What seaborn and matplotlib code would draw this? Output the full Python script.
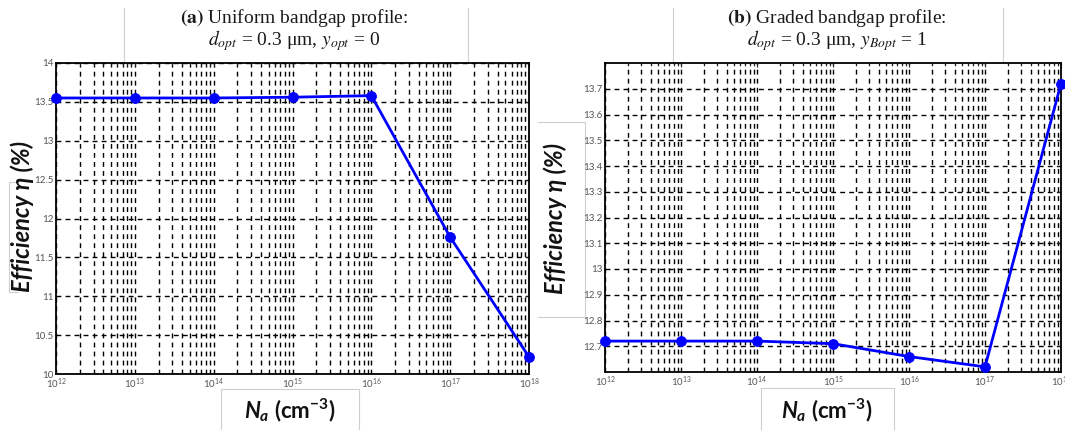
import numpy as np
import pandas as pd
import matplotlib
matplotlib.use("Agg")
import matplotlib.pyplot as plt
import matplotlib.ticker as mticker
from matplotlib.lines import Line2D
import seaborn as sns

# Doping concentration N_a (cm^-3)
na = [1e12, 1e13, 1e14, 1e15, 1e16, 1e17, 1e18]
# Efficiency (%) for the two bandgap profiles
eff_uniform = [13.55, 13.55, 13.55, 13.56, 13.58, 11.76, 10.22]
eff_graded = [12.72, 12.72, 12.72, 12.71, 12.66, 12.62, 13.72]

yticks_uniform = [10, 10.5, 11, 11.5, 12, 12.5, 13, 13.5, 14]
yticks_graded = [12.7, 12.8, 12.9, 13.0, 13.1, 13.2, 13.3, 13.4, 13.5, 13.6, 13.7]

sns.set_style("white")
plt.rcParams["font.family"] = ["Lato", "DejaVu Sans"]
plt.rcParams["mathtext.fontset"] = "custom"
plt.rcParams["mathtext.rm"] = "Lato:bold"
plt.rcParams["mathtext.it"] = "Lato:bold:italic"
plt.rcParams["mathtext.bf"] = "Lato:bold"

W, H = 1065, 430
fig = plt.figure(figsize=(W / 100, H / 100), dpi=100)


def px_box(x0, y0, x1, y1):
    return [x0 / W, 1 - y1 / H, (x1 - x0) / W, (y1 - y0) / H]


ax_a = fig.add_axes(px_box(56, 63, 529, 374))
ax_b = fig.add_axes(px_box(605, 63, 1061, 372))

df_a = pd.DataFrame({"Na": na, "eff": eff_uniform})
df_b = pd.DataFrame({"Na": na, "eff": eff_graded})

panels = [
    (ax_a, df_a, (10, 14), yticks_uniform),
    (ax_b, df_b, (12.6, 13.8), yticks_graded),
]

for ax, df, ylim, yticks in panels:
    sns.lineplot(data=df, x="Na", y="eff", ax=ax, color="#0000ff", linewidth=2,
                 marker="o", markersize=7, markeredgecolor="#0000ff", zorder=5,
                 clip_on=False)
    ax.set_xscale("log")
    ax.set_xlim(1e12, 1e18)
    ax.set_ylim(*ylim)
    ax.set_yticks(yticks)
    ax.yaxis.set_major_formatter(mticker.FormatStrFormatter("%g"))
    ax.xaxis.set_major_locator(mticker.LogLocator(base=10, numticks=20))
    ax.xaxis.set_minor_locator(mticker.LogLocator(base=10, subs=np.arange(2, 10), numticks=20))
    ax.xaxis.set_minor_formatter(mticker.NullFormatter())
    ax.set_xlabel("")
    ax.set_ylabel("")
    grid_kw = dict(color="black", linestyle=(0, (3.5, 3)), linewidth=1.0)
    ax.grid(True, which="major", axis="both", **grid_kw)
    ax.grid(True, which="minor", axis="x", **grid_kw)
    ax.set_axisbelow(True)
    for s in ax.spines.values():
        s.set_visible(True)
        s.set_color("black")
        s.set_linewidth(1.3)
    ax.tick_params(which="both", direction="in", top=True, right=True,
                   labelsize=7, labelcolor="#555555", pad=2)
    ax.tick_params(which="major", length=3, width=0.8)
    ax.tick_params(which="minor", length=2, width=0.6)

# Panel headings (Times-like serif)
title_kw = dict(ha="center", va="center", fontsize=14, family="Liberation Serif",
                math_fontfamily="stix", color="#1a1a1a")
fig.text(294 / W, 1 - 18 / H, r"$\mathbf{(a)}$ Uniform bandgap profile:", **title_kw)
fig.text(294 / W, 1 - 41 / H, r"$d_{opt}$ = 0.3 μm, $y_{opt}$ = 0", **title_kw)
fig.text(837 / W, 1 - 18 / H, r"$\mathbf{(b)}$ Graded bandgap profile:", **title_kw)
fig.text(837 / W, 1 - 41 / H, r"$d_{opt}$ = 0.3 μm, $y_{Bopt}$ = 1", **title_kw)

# Axis labels
ylab_kw = dict(rotation=90, ha="center", va="center", fontsize=17,
               fontweight="bold", fontstyle="italic", color="#111111")
fig.text(22 / W, 1 - 217 / H, "Efficiency η (%)", **ylab_kw)
fig.text(555 / W, 1 - 218 / H, "Efficiency η (%)", **ylab_kw)
xlab_kw = dict(ha="center", va="center", fontsize=16, fontweight="bold",
               color="#111111")
fig.text(290 / W, 1 - 410 / H, r"$N_{a}$ (cm$^{-3}$)", **xlab_kw)
fig.text(827 / W, 1 - 410 / H, r"$N_{a}$ (cm$^{-3}$)", **xlab_kw)

# Light frames of the text boxes
frame_color = "#cfcfcf"


def seg(xs, ys):
    fig.add_artist(Line2D([x / W for x in xs], [1 - y / H for y in ys],
                          color=frame_color, linewidth=0.8, zorder=0))


for x in (124, 468, 673, 1003):
    seg([x, x], [8, 63])
seg([18, 9, 9, 18], [182, 182, 292, 292])
seg([538, 585, 585, 538], [122, 122, 317, 317])
seg([221, 221, 359, 359], [430, 389, 389, 430])
seg([761, 761, 894, 894], [430, 388, 388, 430])

fig.savefig("out.png", dpi=100)
